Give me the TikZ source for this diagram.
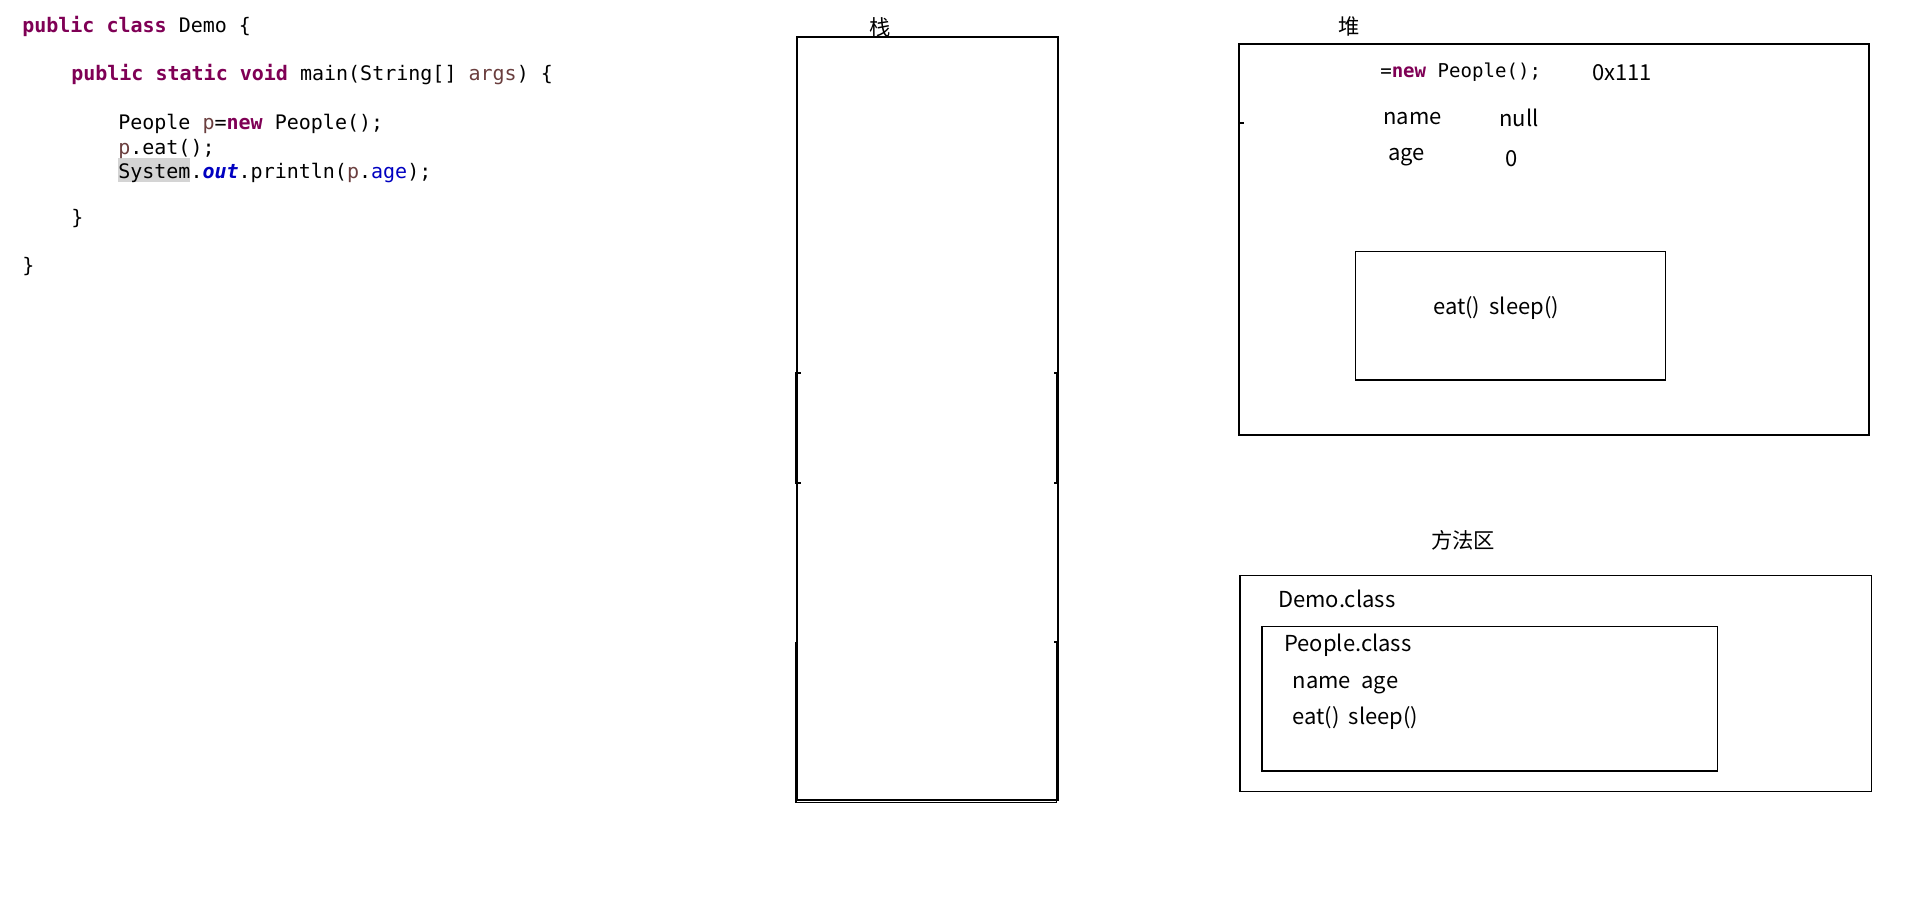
\documentclass[tikz,border=0pt]{standalone}
\usepackage{fontspec}
\newfontfamily\codefont{DejaVu Sans Mono}
\newfontfamily\cjk{Noto Sans CJK SC}
\definecolor{kw}{HTML}{7F0055}
\definecolor{var}{HTML}{6A3E3E}
\definecolor{fld}{HTML}{0000C0}
\definecolor{hl}{HTML}{D4D4D4}
\newcommand{\kwd}[1]{\textcolor{kw}{\bfseries #1}}
\begin{document}
\begin{tikzpicture}[x=0.75pt,y=-0.75pt,
  box/.style={draw=black,line width=0.8pt},
  code/.style={anchor=base west,inner sep=0pt,font=\codefont\fontsize{15pt}{18pt}\selectfont},
  hcode/.style={anchor=base west,inner sep=0pt,font=\codefont\fontsize{14.3pt}{17pt}\selectfont},
  lbl/.style={anchor=base west,inner sep=0pt,font=\cjk\fontsize{16.5pt}{19pt}\selectfont},
  title/.style={anchor=center,inner sep=0pt,font=\cjk\fontsize{16pt}{19pt}\selectfont}]
\useasboundingbox (0,0) rectangle (1914,917);
% code
\fill[hl] (118,158) rectangle (190,182);
\node[code] (c1) at (22,33) {\kwd{public} \kwd{class} Demo \{};
\node[code] (c2) at (71,81) {\kwd{public} \kwd{static} \kwd{void} main(String[] \textcolor{var}{args}) \{};
\node[code] (c3) at (118,129) {People \textcolor{var}{p}=\kwd{new} People();};
\node[code] (c4) at (118,154) {\textcolor{var}{p}.eat();};
\node[code] (c5) at (118,178) {System.\textcolor{fld}{\bfseries\itshape out}.println(\textcolor{var}{p}.\textcolor{fld}{age});};
\node[code] (c6) at (71,224) {\}};
\node[code] (c7) at (22,272) {\}};
% stack
\node[title] (stackt) at (880,27) {栈};
\draw[box] (797,37) rectangle (1058,800);
\draw[line width=0.8pt] (800.7,373) -- (795.3,373) -- (795.3,483) -- (800.7,483);
\draw[line width=0.8pt] (1054,373) -- (1056.7,373) -- (1056.7,483) -- (1054,483);
\draw[line width=0.8pt] (796,642) -- (796,802.3) -- (1056.7,802.3) -- (1056.7,642) -- (1054,642);
% heap
\node[title] (heapt) at (1349,26) {堆};
\draw[box] (1239,44) rectangle (1869,435);
\draw[line width=0.8pt] (1238,123) -- (1244,123);
\node[hcode] (hnew) at (1380,78) {=\kwd{new} People();};
\node[lbl] (addr) at (1592,80.7) {0x111};
\node[lbl] (hname) at (1383,124) {name};
\node[lbl] (hnull) at (1499,126.7) {null};
\node[lbl] (hage) at (1388,161) {age};
\node[lbl] (hzero) at (1505,166.7) {0};
\draw[box] (1355.7,251.7) rectangle (1665.7,380);
\node[lbl] (hmeth) at (1433,314) {eat()\hspace{7pt}sleep()};
% method area
\node[title] (mt) at (1463,540.5) {方法区};
\draw[box] (1240,575.3) rectangle (1871.7,791.7);
\node[lbl] (demo) at (1278,607.3) {Demo.class};
\draw[box] (1262,626.7) rectangle (1717.3,771);
\node[lbl] (people) at (1284,651.7) {People.class};
\node[lbl] (fields) at (1292.3,688) {name\hspace{8pt}age};
\node[lbl] (meths) at (1292.3,724) {eat()\hspace{7pt}sleep()};
\end{tikzpicture}
\end{document}
